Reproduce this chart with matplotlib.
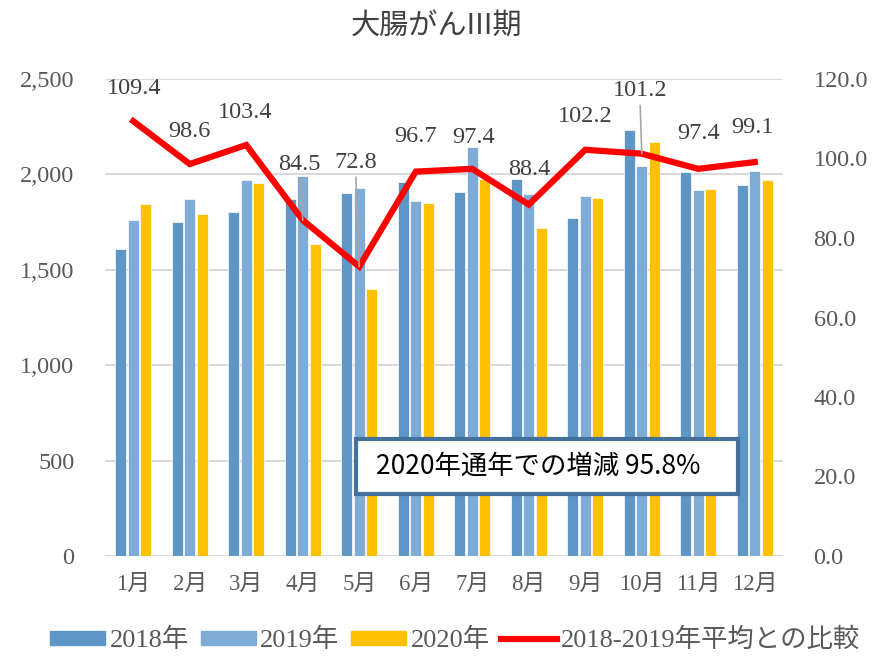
import numpy as np
import matplotlib.pyplot as plt
from matplotlib.patches import Patch, Rectangle
from matplotlib.lines import Line2D

plt.rcParams['font.family'] = ['Liberation Serif', 'Noto Sans CJK JP']

months = ['1月', '2月', '3月', '4月', '5月', '6月', '7月', '8月', '9月', '10月', '11月', '12月']
y2018 = [1610, 1749, 1805, 1870, 1900, 1959, 1908, 1978, 1772, 2234, 2012, 1943]
y2019 = [1759, 1873, 1969, 1989, 1931, 1859, 2145, 1896, 1885, 2043, 1917, 2019]
y2020 = [1847, 1791, 1957, 1637, 1401, 1852, 1978, 1718, 1875, 2168, 1921, 1969]
ratio = [109.4, 98.6, 103.4, 84.5, 72.8, 96.7, 97.4, 88.4, 102.2, 101.2, 97.4, 99.1]

# label offsets in pixels (dx, dy) and whether a leader line is drawn
label_off = [(1, 33), (0, 33), (-1, 32), (-3, 56), (-4, 104), (0, 35),
             (1, 31), (0, 35), (0, 33), (-2, 63), (0, 35), (-2, 35)]
leader = [False, False, False, True, True, False, False, False, False, True, False, False]

c18 = '#5E96C6'
c19 = '#7FABD7'
c20 = '#FFC000'
gray = '#595959'

fig = plt.figure(figsize=(8.72, 6.56), dpi=100)
ax = fig.add_axes([105 / 872, 1 - 556 / 656, (783 - 105) / 872, (556 - 79) / 656])

x = np.arange(len(months))
w = 0.19
off = 0.22
ax.bar(x - off, y2018, w, color=c18, edgecolor='white', linewidth=0.5, zorder=2)
ax.bar(x, y2019, w, color=c19, edgecolor='white', linewidth=0.5, zorder=2)
ax.bar(x + off, y2020, w, color=c20, edgecolor='white', linewidth=0.5, zorder=2)

ax.set_xlim(-0.5, len(months) - 0.5)
ax.set_ylim(0, 2500)
ax.set_yticks(range(0, 2501, 500))
ax.set_yticklabels([f'{v:,}' for v in range(0, 2501, 500)])
ax.set_xticks(x)
ax.set_xticklabels(months)
ax.grid(axis='y', color='#D9D9D9', linewidth=1.5, zorder=0)
ax.set_axisbelow(True)
for s in ax.spines.values():
    s.set_visible(False)
ax.tick_params(axis='y', length=0, labelsize=17.5, colors=gray, pad=22)
ax.tick_params(axis='x', length=0, labelsize=16.5, colors=gray, pad=13)

ax2 = ax.twinx()
ax2.set_ylim(0, 120)
ax2.set_yticks(range(0, 121, 20))
ax2.set_yticklabels([f'{v:.1f}' for v in range(0, 121, 20)])
ax2.tick_params(axis='y', length=0, labelsize=17.5, colors=gray, pad=22)
for s in ax2.spines.values():
    s.set_visible(False)
ax2.plot(x, ratio, color='#FF0000', linewidth=4.5, solid_joinstyle='miter', zorder=3)

for i, v in enumerate(ratio):
    dx, dy = label_off[i]
    ap = dict(arrowstyle='-', color='#A6A6A6', lw=1.2, shrinkA=1, shrinkB=0) if leader[i] else None
    ax2.annotate(f'{v:.1f}', xy=(x[i], v), xytext=(dx, dy), textcoords='offset pixels',
                 ha='center', va='center', fontsize=17.5, color='#404040', arrowprops=ap)

fig.text(0.5, 1 - 26 / 656, '大腸がんIII期', ha='center', va='center', fontsize=21,
         color='#404040', family=['Noto Sans CJK JP'])

# summary box
fig.patches.append(Rectangle((356 / 872, 1 - 494 / 656), (738 - 356) / 872, (494 - 439) / 656,
                             transform=fig.transFigure, facecolor='white', edgecolor='#44709C',
                             linewidth=3, zorder=5))
fig.text(376 / 872, 1 - 466 / 656, '2020年通年での増減 95.8%', ha='left', va='center',
         fontsize=19, color='black', family=['Noto Sans CJK JP'], zorder=6)

handles = [Patch(color=c18), Patch(color=c19), Patch(color=c20),
           Line2D([0], [0], color='#FF0000', linewidth=4.5)]
labels = ['2018年', '2019年', '2020年', '2018-2019年平均との比較']
leg = fig.legend(handles, labels, loc='center', bbox_to_anchor=(455 / 872, 1 - 640 / 656), ncol=4,
                 frameon=False, fontsize=19, handlelength=2.1, handleheight=0.45,
                 handletextpad=0.15, columnspacing=0.45)
for t in leg.get_texts():
    t.set_color(gray)

fig.savefig('out.png', dpi=100)
